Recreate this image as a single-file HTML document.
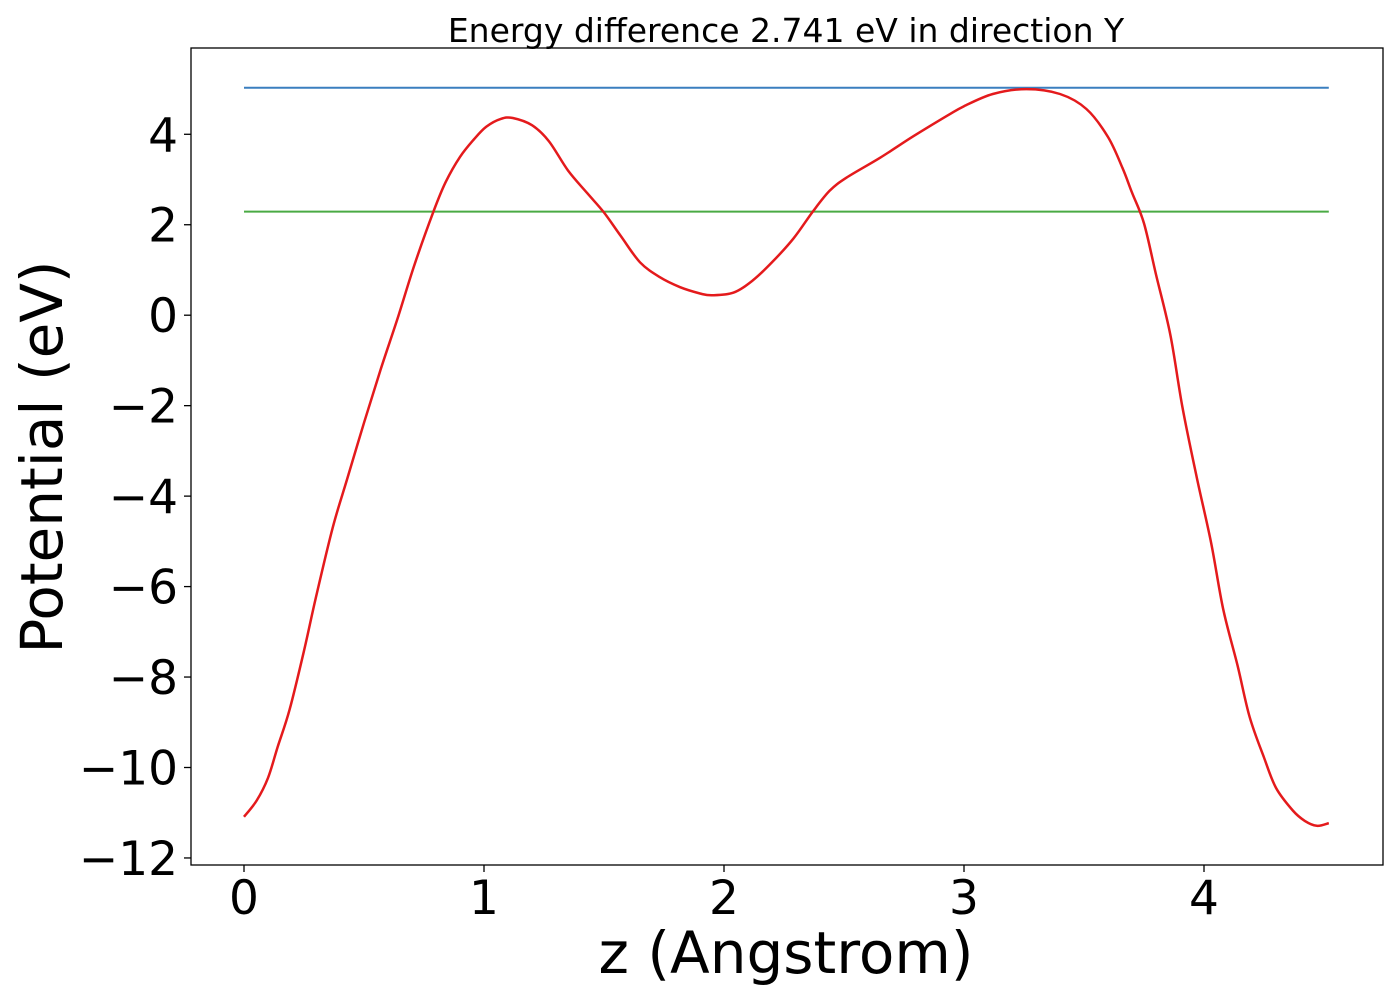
<!DOCTYPE html>
<html><head><meta charset="utf-8"><style>
html,body{margin:0;padding:0;background:#fff;}
svg{display:block;font-family:"DejaVu Sans","Liberation Sans",sans-serif;}
</style></head><body>
<svg id="chart" width="1400" height="1000" viewBox="0 0 1400 1000">
<rect x="0" y="0" width="1400" height="1000" fill="#fff"/>
<text x="786" y="42" font-size="33" text-anchor="middle">Energy difference 2.741 eV in direction Y</text>
<g id="ticks"></g>
<g id="marks"></g>
<rect x="191" y="48" width="1192" height="817" fill="none" stroke="#000" stroke-width="1.3"/>
<text x="786" y="973" font-size="58" text-anchor="middle">z (Angstrom)</text>
<text transform="translate(62,457) rotate(-90)" font-size="58" text-anchor="middle">Potential (eV)</text>
</svg>
<script>
const zValues = [0,0.053,0.10,0.14,0.19,0.25,0.30,0.37,0.43,0.50,0.57,0.64,0.71,0.79,0.84,0.90,0.96,1.01,1.07,1.12,1.20,1.27,1.35,1.43,1.50,1.57,1.65,1.733,1.817,1.9,1.95,2.04,2.12,2.2,2.29,2.37,2.44,2.51,2.65,2.79,2.93,3.0,3.12,3.26,3.4,3.51,3.6,3.66,3.70,3.75,3.80,3.86,3.91,3.97,4.03,4.08,4.14,4.19,4.25,4.30,4.37,4.42,4.47,4.52];
const potential = [-11.09,-10.73,-10.23,-9.55,-8.72,-7.42,-6.23,-4.69,-3.62,-2.38,-1.19,-0.07,1.11,2.3,2.94,3.5,3.9,4.17,4.34,4.36,4.2,3.85,3.2,2.7,2.27,1.75,1.17,0.84,0.62,0.48,0.44,0.5,0.77,1.17,1.7,2.29,2.75,3.04,3.48,3.96,4.41,4.62,4.89,5.0,4.89,4.56,3.94,3.26,2.71,2.03,0.9,-0.44,-2.03,-3.59,-5.04,-6.5,-7.75,-8.88,-9.78,-10.45,-10.95,-11.18,-11.29,-11.23];
const vbmLevel = 2.29;
const cbmLevel = 5.03;
const xTicks = [0,1,2,3,4];
const yTicks = [4,2,0,-2,-4,-6,-8,-10,-12];
const NS='http://www.w3.org/2000/svg';
function sx(z){return 244+240*z;}
function sy(v){return 315.2-45.23*v;}
const ticks=document.getElementById('ticks'), marks=document.getElementById('marks');
xTicks.forEach(t=>{
  const l=document.createElementNS(NS,'line');
  
  
  l.setAttribute('x1',sx(t));l.setAttribute('x2',sx(t));l.setAttribute('y1',865);l.setAttribute('y2',872);l.setAttribute('stroke','#000');l.setAttribute('stroke-width','1.3');
  ticks.appendChild(l);
  const tx=document.createElementNS(NS,'text');
  
  
  tx.setAttribute('x',sx(t));tx.setAttribute('y',914);tx.setAttribute('font-size','47');tx.setAttribute('text-anchor','middle');
  tx.textContent=String(t);
  ticks.appendChild(tx);
});
yTicks.forEach(t=>{
  const l=document.createElementNS(NS,'line');
  
  
  l.setAttribute('x1',184);l.setAttribute('x2',191);l.setAttribute('y1',sy(t));l.setAttribute('y2',sy(t));l.setAttribute('stroke','#000');l.setAttribute('stroke-width','1.3');
  ticks.appendChild(l);
  const tx=document.createElementNS(NS,'text');
  
  
  tx.setAttribute('x',178);tx.setAttribute('y',sy(t)+17);tx.setAttribute('font-size','47');tx.setAttribute('text-anchor','end');
  tx.textContent=t<0?'\u2212'+Math.abs(t):String(t);
  ticks.appendChild(tx);
});
const zMin=zValues[0], zMax=zValues[zValues.length-1];
const blue=document.createElementNS(NS,'line');


blue.setAttribute('x1',sx(zMin));blue.setAttribute('x2',sx(zMax));blue.setAttribute('y1',sy(cbmLevel));blue.setAttribute('y2',sy(cbmLevel));blue.setAttribute('stroke','#3a7fbf');blue.setAttribute('stroke-width','2');
marks.appendChild(blue);
const green=document.createElementNS(NS,'line');


green.setAttribute('x1',sx(zMin));green.setAttribute('x2',sx(zMax));green.setAttribute('y1',sy(vbmLevel));green.setAttribute('y2',sy(vbmLevel));green.setAttribute('stroke','#4aaa44');green.setAttribute('stroke-width','2');
marks.appendChild(green);
const pts=zValues.map((z,i)=>[sx(z),sy(potential[i])]);
let d='M'+pts[0][0].toFixed(1)+','+pts[0][1].toFixed(1);
for(let i=0;i<pts.length-1;i++){
  const p0=pts[Math.max(0,i-1)],p1=pts[i],p2=pts[i+1],p3=pts[Math.min(pts.length-1,i+2)];
  const c1=[p1[0]+(p2[0]-p0[0])/6,p1[1]+(p2[1]-p0[1])/6];
  const c2=[p2[0]-(p3[0]-p1[0])/6,p2[1]-(p3[1]-p1[1])/6];
  d+=' C'+c1[0].toFixed(1)+','+c1[1].toFixed(1)+' '+c2[0].toFixed(1)+','+c2[1].toFixed(1)+' '+p2[0].toFixed(1)+','+p2[1].toFixed(1);
}
const p=document.createElementNS(NS,'path');


p.setAttribute('d',d);
p.setAttribute('fill','none');p.setAttribute('stroke','#e41a1c');p.setAttribute('stroke-width','2.5');p.setAttribute('stroke-linejoin','round');
marks.appendChild(p);
</script>
</body></html>
